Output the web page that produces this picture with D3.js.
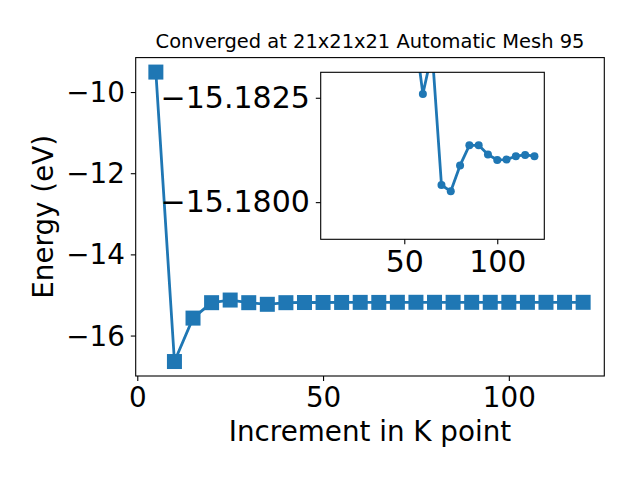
<!DOCTYPE html>
<html>
<head>
<meta charset="utf-8">
<script src="https://cdn.jsdelivr.net/npm/d3@7"></script>
<style>
  html, body { margin: 0; padding: 0; background: #fff; }
  svg { display: block; font-family: "DejaVu Sans", sans-serif; }
</style>
</head>
<body>
<svg id="chart" width="640" height="480"></svg>
<script>
// ---- data ----
const kpoints = [5, 10, 15, 20, 25, 30, 35, 40, 45, 50, 55, 60, 65, 70, 75, 80, 85, 90, 95, 100, 105, 110, 115, 120];
const energies = [-9.508, -16.64, -15.57, -15.19, -15.125, -15.19, -15.23, -15.19, -15.186, -15.185,
                  -15.1843, -15.18259, -15.1836, -15.18041, -15.18026, -15.18088, -15.18136, -15.18136,
                  -15.18114, -15.18101, -15.18102, -15.18110, -15.18113, -15.18110];
const insetFromK = 55;
const mainXTicks = [0, 50, 100];
const mainYTicks = [-16, -14, -12, -10];
const insetXTicks = [50, 100];
const insetYTicks = [-15.1825, -15.1800];
const titleText = "Converged at 21x21x21 Automatic Mesh 95";
const xLabel = "Increment in K point";
const yLabel = "Energy (eV)";

const color = "#1f77b4";
const svg = d3.select("#chart");
const fmtMinus = s => s.replace("-", "\u2212");

// ---- main axes ----
const M = {left: 135.7, right: 604.3, top: 57.6, bottom: 376};
const xr = [d3.min(kpoints), d3.max(kpoints)];
const xm = (xr[1] - xr[0]) * 0.05;
const yr = [d3.min(energies), d3.max(energies)];
const ym = (yr[1] - yr[0]) * 0.05;
const x = d3.scaleLinear().domain([xr[0] - xm, xr[1] + xm]).range([M.left - 1.2, M.right + 0.2]);
const y = d3.scaleLinear().domain([yr[0] - ym, yr[1] + ym]).range([M.bottom, M.top]);

const pts = kpoints.map((k, i) => ({k, e: energies[i]}));

svg.append("defs").append("clipPath").attr("id", "mainclip")
  .append("rect").attr("x", M.left).attr("y", M.top)
  .attr("width", M.right - M.left).attr("height", M.bottom - M.top);

const gMain = svg.append("g").attr("clip-path", "url(#mainclip)");
gMain.append("path").datum(pts)
  .attr("fill", "none").attr("stroke", color).attr("stroke-width", 2.8)
  .attr("stroke-linejoin", "round")
  .attr("d", d3.line().x(d => x(d.k)).y(d => y(d.e)));
gMain.selectAll("rect.m").data(pts).enter().append("rect")
  .attr("x", d => x(d.k) - 7.5).attr("y", d => y(d.e) - 7.5)
  .attr("width", 15).attr("height", 15).attr("fill", color);

// main x axis
const xAxis = svg.append("g").attr("transform", `translate(0,${M.bottom})`)
  .call(d3.axisBottom(x).tickValues(mainXTicks).tickSize(4.9).tickPadding(4).tickFormat(d3.format("d")));
xAxis.select(".domain").remove();
xAxis.selectAll("line").attr("stroke", "#000").attr("stroke-width", 1.1);
xAxis.selectAll("text").attr("font-size", 27.78).attr("fill", "#000")
  .attr("dy", null).attr("y", 30.5).attr("font-family", "DejaVu Sans");

// main y axis
const yAxis = svg.append("g").attr("transform", `translate(${M.left},0)`)
  .call(d3.axisLeft(y).tickValues(mainYTicks).tickSize(4.9).tickPadding(6).tickFormat(d => fmtMinus(d3.format("d")(d))));
yAxis.select(".domain").remove();
yAxis.selectAll("line").attr("stroke", "#000").attr("stroke-width", 1.1);
yAxis.selectAll("text").attr("font-size", 27.78).attr("fill", "#000")
  .attr("dy", null).attr("y", 9.6).attr("font-family", "DejaVu Sans");

svg.append("rect").attr("x", M.left).attr("y", M.top)
  .attr("width", M.right - M.left).attr("height", M.bottom - M.top)
  .attr("fill", "none").attr("stroke", "#000").attr("stroke-width", 1.1);

// title and labels
svg.append("text").attr("x", (M.left + M.right) / 2).attr("y", 47.7)
  .attr("text-anchor", "middle").attr("font-size", 19.44).text(titleText);
svg.append("text").attr("x", (M.left + M.right) / 2).attr("y", 440.5)
  .attr("text-anchor", "middle").attr("font-size", 27.78).text(xLabel);
svg.append("text").attr("transform", `translate(53,${(M.top + M.bottom) / 2}) rotate(-90)`)
  .attr("text-anchor", "middle").attr("font-size", 27.78).text(yLabel);

// ---- inset axes ----
const I = {left: 320.7, right: 544.3, top: 72.3, bottom: 239.3};
const xi = d3.scaleLinear().domain([5.05, 125.3]).range([I.left, I.right]);
const yi = d3.scaleLinear().domain([-15.18311, -15.17911]).range([I.top, I.bottom]);
const insetPts = pts.filter(d => d.k >= insetFromK);

svg.append("rect").attr("x", I.left).attr("y", I.top)
  .attr("width", I.right - I.left).attr("height", I.bottom - I.top).attr("fill", "#fff");
svg.select("defs").append("clipPath").attr("id", "insetclip")
  .append("rect").attr("x", I.left).attr("y", I.top)
  .attr("width", I.right - I.left).attr("height", I.bottom - I.top);
const gIn = svg.append("g").attr("clip-path", "url(#insetclip)");
gIn.append("path").datum(insetPts)
  .attr("fill", "none").attr("stroke", color).attr("stroke-width", 2.8)
  .attr("stroke-linejoin", "round")
  .attr("d", d3.line().x(d => xi(d.k)).y(d => yi(d.e)));
gIn.selectAll("circle").data(insetPts).enter().append("circle")
  .attr("cx", d => xi(d.k)).attr("cy", d => yi(d.e)).attr("r", 4).attr("fill", color);

const xiAxis = svg.append("g").attr("transform", `translate(0,${I.bottom})`)
  .call(d3.axisBottom(xi).tickValues(insetXTicks).tickSize(4.9).tickFormat(d3.format("d")));
xiAxis.select(".domain").remove();
xiAxis.selectAll("line").attr("stroke", "#000").attr("stroke-width", 1.1);
xiAxis.selectAll("text").attr("font-size", 30).attr("fill", "#000")
  .attr("dy", null).attr("y", 32.5).attr("font-family", "DejaVu Sans");

const yiAxis = svg.append("g").attr("transform", `translate(${I.left},0)`)
  .call(d3.axisLeft(yi).tickValues(insetYTicks).tickSize(4.9).tickPadding(6).tickFormat(d => fmtMinus(d3.format(".4f")(d))));
yiAxis.select(".domain").remove();
yiAxis.selectAll("line").attr("stroke", "#000").attr("stroke-width", 1.1);
yiAxis.selectAll("text").attr("font-size", 30).attr("fill", "#000")
  .attr("dy", null).attr("y", 9.5).attr("font-family", "DejaVu Sans");

svg.append("rect").attr("x", I.left).attr("y", I.top)
  .attr("width", I.right - I.left).attr("height", I.bottom - I.top)
  .attr("fill", "none").attr("stroke", "#000").attr("stroke-width", 1.1);
</script>
</body>
</html>
